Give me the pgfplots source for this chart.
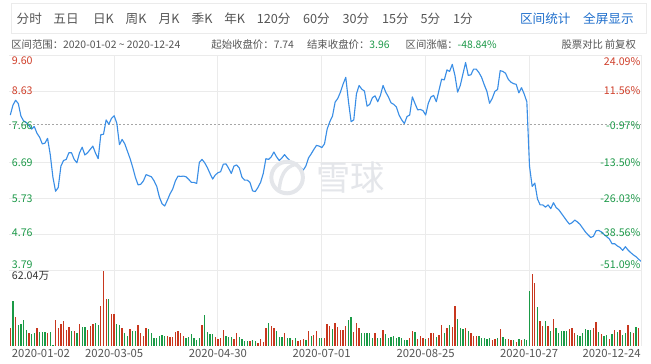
\documentclass[border=0pt]{standalone}
\usepackage{pgfplots}
\usepackage{pgfplotstable}
\pgfplotsset{compat=1.18}
\usepackage{fontspec}
\setmainfont{Noto Sans CJK SC}
\definecolor{pxline}{HTML}{3A8EE6}
\definecolor{upred}{HTML}{C8371E}
\definecolor{dngreen}{HTML}{1A9A46}
\definecolor{labred}{HTML}{D0402B}
\definecolor{labgreen}{HTML}{1E9A4A}
\definecolor{gridc}{HTML}{EBEBEB}
\definecolor{txt}{HTML}{555555}
\definecolor{lnk}{HTML}{1F6FCC}
\definecolor{wm}{HTML}{E4E6EA}

\pgfplotstableread{
i p
0 7.98
1 8.25
2 8.38
3 8.29
4 7.95
5 7.82
6 7.78
7 7.70
8 7.60
9 7.67
10 7.49
11 7.38
12 7.20
13 7.22
14 7.35
15 6.91
16 6.30
17 5.92
18 6.02
19 6.60
20 6.75
21 6.78
22 6.96
23 6.96
24 6.78
25 6.69
26 6.96
27 7.11
28 6.90
29 6.96
30 7.05
31 7.14
32 6.95
33 6.80
34 7.45
35 7.46
36 7.85
37 7.73
38 7.89
39 7.96
40 7.76
41 7.18
42 7.32
43 7.20
44 7.00
45 6.80
46 6.56
47 6.29
48 6.09
49 6.11
50 6.20
51 6.37
52 6.34
53 6.31
54 6.20
55 6.05
56 5.76
57 5.58
58 5.52
59 5.68
60 5.85
61 5.98
62 6.20
63 6.33
64 6.32
65 6.33
66 6.31
67 6.24
68 6.16
69 6.16
70 6.13
71 6.70
72 6.78
73 6.69
74 6.56
75 6.40
76 6.25
77 6.36
78 6.42
79 6.45
80 6.65
81 6.66
82 6.54
83 6.40
84 6.60
85 6.63
86 6.55
87 6.30
88 6.22
89 6.22
90 6.16
91 5.93
92 5.91
93 6.02
94 6.16
95 6.40
96 6.80
97 6.78
98 6.85
99 6.98
100 6.85
101 6.75
102 6.82
103 6.91
104 6.82
105 6.75
106 6.69
107 6.66
108 6.62
109 6.56
110 6.49
111 6.60
112 6.82
113 6.93
114 7.05
115 7.16
116 7.14
117 7.10
118 7.20
119 7.60
120 7.80
121 7.95
122 8.33
123 8.43
124 8.60
125 8.82
126 9.00
127 8.35
128 7.80
129 7.85
130 8.55
131 8.78
132 8.68
133 8.63
134 8.22
135 8.27
136 8.45
137 8.50
138 8.34
139 8.51
140 8.78
141 8.60
142 8.47
143 8.31
144 8.27
145 8.20
146 7.98
147 7.85
148 7.75
149 7.94
150 7.98
151 8.47
152 8.29
153 8.12
154 8.13
155 8.10
156 7.98
157 8.30
158 8.47
159 8.51
160 8.34
161 8.65
162 8.95
163 8.93
164 9.20
165 9.16
166 9.35
167 9.05
168 8.60
169 8.78
170 9.09
171 9.40
172 9.05
173 9.07
174 9.22
175 9.22
176 9.13
177 9.00
178 8.80
179 8.62
180 8.30
181 8.43
182 8.62
183 8.67
184 9.18
185 9.16
186 9.11
187 8.95
188 8.87
189 8.83
190 8.81
191 8.58
192 8.72
193 8.55
194 8.34
195 6.60
196 6.05
197 6.14
198 5.71
199 5.55
200 5.55
201 5.49
202 5.55
203 5.45
204 5.61
205 5.48
206 5.42
207 5.32
208 5.22
209 5.12
210 5.03
211 5.07
212 5.14
213 5.09
214 5.02
215 4.92
216 4.82
217 4.74
218 4.67
219 4.70
220 4.85
221 4.86
222 4.82
223 4.75
224 4.69
225 4.63
226 4.50
227 4.50
228 4.44
229 4.40
230 4.32
231 4.42
232 4.33
233 4.26
234 4.20
235 4.15
236 4.08
237 4.02
}\pricetable

\pgfplotstableread{
i v
0 15.2
2 23.9
7 10.9
10 15.0
14 10.9
17 21.5
18 15.0
19 18.0
20 20.7
21 13.3
22 15.8
24 12.5
26 18.2
29 13.3
30 16.1
31 18.0
34 32.9
35 62.04
36 39.2
38 26.1
39 26.1
42 15.2
45 13.9
48 17.4
49 10.9
50 7.9
51 14.7
59 8.2
60 7.6
61 7.3
62 11.2
63 12.2
64 10.6
65 8.2
72 17.4
77 7.1
78 5.4
79 6.5
80 13.1
84 6.0
85 10.9
90 3.8
93 2.2
94 6.0
95 3.3
96 14.4
98 16.6
99 15.2
103 10.6
106 4.9
108 4.1
109 4.9
110 5.4
112 12.5
114 9.3
115 12.0
118 6.5
119 18.0
120 16.1
122 19.0
123 15.8
124 12.8
125 12.8
126 16.6
129 11.7
130 19.0
131 14.7
137 10.6
140 13.3
150 6.3
151 12.5
153 6.0
154 8.2
155 6.5
157 6.5
158 10.9
159 10.9
161 9.0
162 17.4
164 15.2
166 15.8
167 32.9
171 15.0
173 10.3
174 8.4
175 8.4
181 5.2
182 5.4
184 14.1
187 5.4
188 4.9
190 3.5
192 5.2
196 59.3
197 51.7
199 20.7
200 16.6
202 16.1
204 22.6
210 13.6
211 14.4
212 10.6
219 15.0
220 20.1
222 9.8
225 5.4
227 13.3
229 12.8
232 17.4
234 10.9
236 14.4
}\volred

\pgfplotstableread{
i v
1 37.0
3 17.4
4 18.0
5 21.5
6 13.1
8 9.8
9 10.3
11 11.7
12 11.7
13 11.7
15 11.7
16 0.8
23 12.5
25 10.9
27 15.8
28 15.8
32 19.3
33 17.1
37 39.2
40 18.0
41 17.4
43 10.9
44 7.9
46 12.5
47 12.0
52 13.9
53 10.6
54 6.5
55 6.5
56 8.2
57 8.7
58 8.2
66 6.3
67 7.6
68 9.8
69 6.3
70 5.2
71 6.8
73 25.6
74 11.7
75 9.8
76 9.8
81 8.2
82 7.1
83 7.1
86 7.6
87 6.0
88 4.4
89 3.8
91 5.2
92 3.8
97 19.0
100 12.0
101 7.6
102 7.6
104 6.5
105 6.3
107 6.3
111 5.2
113 8.2
116 6.3
117 6.5
121 14.1
127 21.5
128 23.9
132 10.9
133 10.9
134 10.9
135 10.3
136 6.5
138 6.5
139 6.5
141 9.8
142 6.5
143 7.6
144 8.2
145 6.5
146 7.3
147 6.5
148 5.2
149 4.6
152 11.7
156 5.4
160 7.6
163 10.9
165 17.4
168 22.0
169 14.7
170 13.6
172 12.5
176 8.4
177 6.3
178 6.5
179 5.4
180 6.3
183 6.5
185 7.6
186 5.4
189 4.9
191 5.4
193 5.4
194 4.6
195 45.4
198 32.1
201 20.7
203 12.5
205 15.2
206 10.3
207 12.0
208 12.5
209 12.5
213 9.0
214 7.9
215 10.3
216 13.6
217 13.1
218 13.1
221 11.7
223 8.2
224 9.0
226 9.8
228 11.7
230 9.0
231 10.9
233 11.7
235 15.8
237 14.0
}\volgreen

\begin{document}
\begin{tikzpicture}
\begin{scope}[x=0.75pt,y=-0.75pt]
\fill[white] (0,0) rectangle (651,369);
\path[use as bounding box] (0,0) rectangle (651,369);
\end{scope}

% price panel
\begin{axis}[at={(0pt,-41.925pt)}, anchor=north west, scale only axis,
  width=480.75pt, height=163.425pt,
  xmin=-0.481, xmax=236.93, ymin=3.79, ymax=9.60,
  axis line style={draw=none}, tick style={draw=none},
  xtick={39,78,117,156,195}, ytick={3.79,4.76,5.73,6.69,8.63,9.60},
  xticklabels={}, yticklabels={},
  grid=major, major grid style={gridc, line width=0.75pt},
  clip=false]
\addplot[gray!70, line width=0.6pt, dash pattern=on 1.5pt off 1.5pt] coordinates {(-0.481,7.74) (236.93,7.74)};
\addplot[pxline, line width=0.85pt, line join=round, mark=none] table[x=i,y=p]{\pricetable};
\end{axis}

% volume panel
\begin{axis}[at={(0pt,-205.35pt)}, anchor=north west, scale only axis,
  width=480.75pt, height=57.675pt,
  xmin=-0.481, xmax=236.93, ymin=0, ymax=62.86,
  axis line style={draw=none}, tick style={draw=none},
  xtick={39,78,117,156,195}, ytick=\empty,
  xticklabels={},
  xmajorgrids, major grid style={gridc, line width=0.75pt}]
\addplot[ycomb, upred, line width=1pt, mark=none] table[x=i,y=v]{\volred};
\addplot[ycomb, dngreen, line width=1pt, mark=none] table[x=i,y=v]{\volgreen};
\end{axis}

\begin{scope}[x=0.75pt,y=-0.75pt]
% right border
\draw[gridc, line width=0.75pt] (641,55.9) -- (641,350.7);
% toolbar
\draw[gridc, line width=0.75pt] (2,4) rectangle (646,34);
\begin{scope}[every node/.style={inner sep=0pt, anchor=west, text=txt, font=\fontsize{9.6pt}{11pt}\selectfont}]
\node at (7.5,19) {分时};
\node at (44.8,19) {五日};
\node at (85,19) {日K};
\node at (118,19) {周K};
\node at (151.5,19) {月K};
\node at (185,19) {季K};
\node at (218,19) {年K};
\node at (251,19) {120分};
\node at (298,19) {60分};
\node at (338,19) {30分};
\node at (378,19) {15分};
\node at (417,19) {5分};
\node at (450,19) {1分};
\node[text=lnk] at (518,19) {区间统计};
\node[text=lnk] at (582,19) {全屏显示};
\end{scope}
% info row
\begin{scope}[every node/.style={inner sep=0pt, anchor=west, text=txt, font=\fontsize{7.9pt}{10pt}\selectfont}]
\node at (2,45) {区间范围：2020-01-02 \textasciitilde{} 2020-12-24};
\node at (205,45) {起始收盘价：7.74};
\node at (302,45) {结束收盘价：\textcolor{labgreen}{3.96}};
\node at (402,45) {区间涨幅：\textcolor{labgreen}{-48.84\%}};
\node[anchor=east] at (636,45) {股票对比\,前复权};
\end{scope}
% watermark
\node[text=wm, inner sep=0pt, font=\fontsize{26pt}{28pt}\selectfont] at (346,180) {雪球};
\draw[wm, line width=3pt] (282,180) circle (16);
\draw[wm, line width=2.6pt] (274,192) .. controls (276,172) and (284,168) .. (293,166);
% y labels
\begin{scope}[every node/.style={inner sep=0pt, font=\fontsize{8.1pt}{10pt}\selectfont}]
\node[anchor=west, text=labred] at (2.7,62) {9.60};
\node[anchor=west, text=labred] at (2.7,92) {8.63};
\node[anchor=west, text=labgreen] at (2.7,127.3) {7.66};
\node[anchor=west, text=labgreen] at (2.7,164.5) {6.69};
\node[anchor=west, text=labgreen] at (2.7,201) {5.73};
\node[anchor=west, text=labgreen] at (2.7,236) {4.76};
\node[anchor=west, text=labgreen] at (2.7,268.3) {3.79};
\node[anchor=east, text=labred] at (640.5,62) {24.09\%};
\node[anchor=east, text=labred] at (640.5,92) {11.56\%};
\node[anchor=east, text=labgreen] at (640.5,127.3) {-0.97\%};
\node[anchor=east, text=labgreen] at (640.5,164.5) {-13.50\%};
\node[anchor=east, text=labgreen] at (640.5,201) {-26.03\%};
\node[anchor=east, text=labgreen] at (640.5,236) {-38.56\%};
\node[anchor=east, text=labgreen] at (640.5,268.3) {-51.09\%};
\node[anchor=west, text=black!80] at (2.7,279.5) {62.04万};
\end{scope}
% date labels
\begin{scope}[every node/.style={inner sep=0pt, text=txt, font=\fontsize{8.6pt}{10pt}\selectfont}]
\node[anchor=west] at (2.7,358.5) {2020-01-02};
\node at (106.7,358.5) {2020-03-05};
\node at (211.7,358.5) {2020-04-30};
\node at (317,358.5) {2020-07-01};
\node at (422.5,358.5) {2020-08-25};
\node at (527.5,358.5) {2020-10-27};
\node[anchor=east] at (640.7,358.5) {2020-12-24};
\end{scope}
\end{scope}
\end{tikzpicture}
\end{document}
